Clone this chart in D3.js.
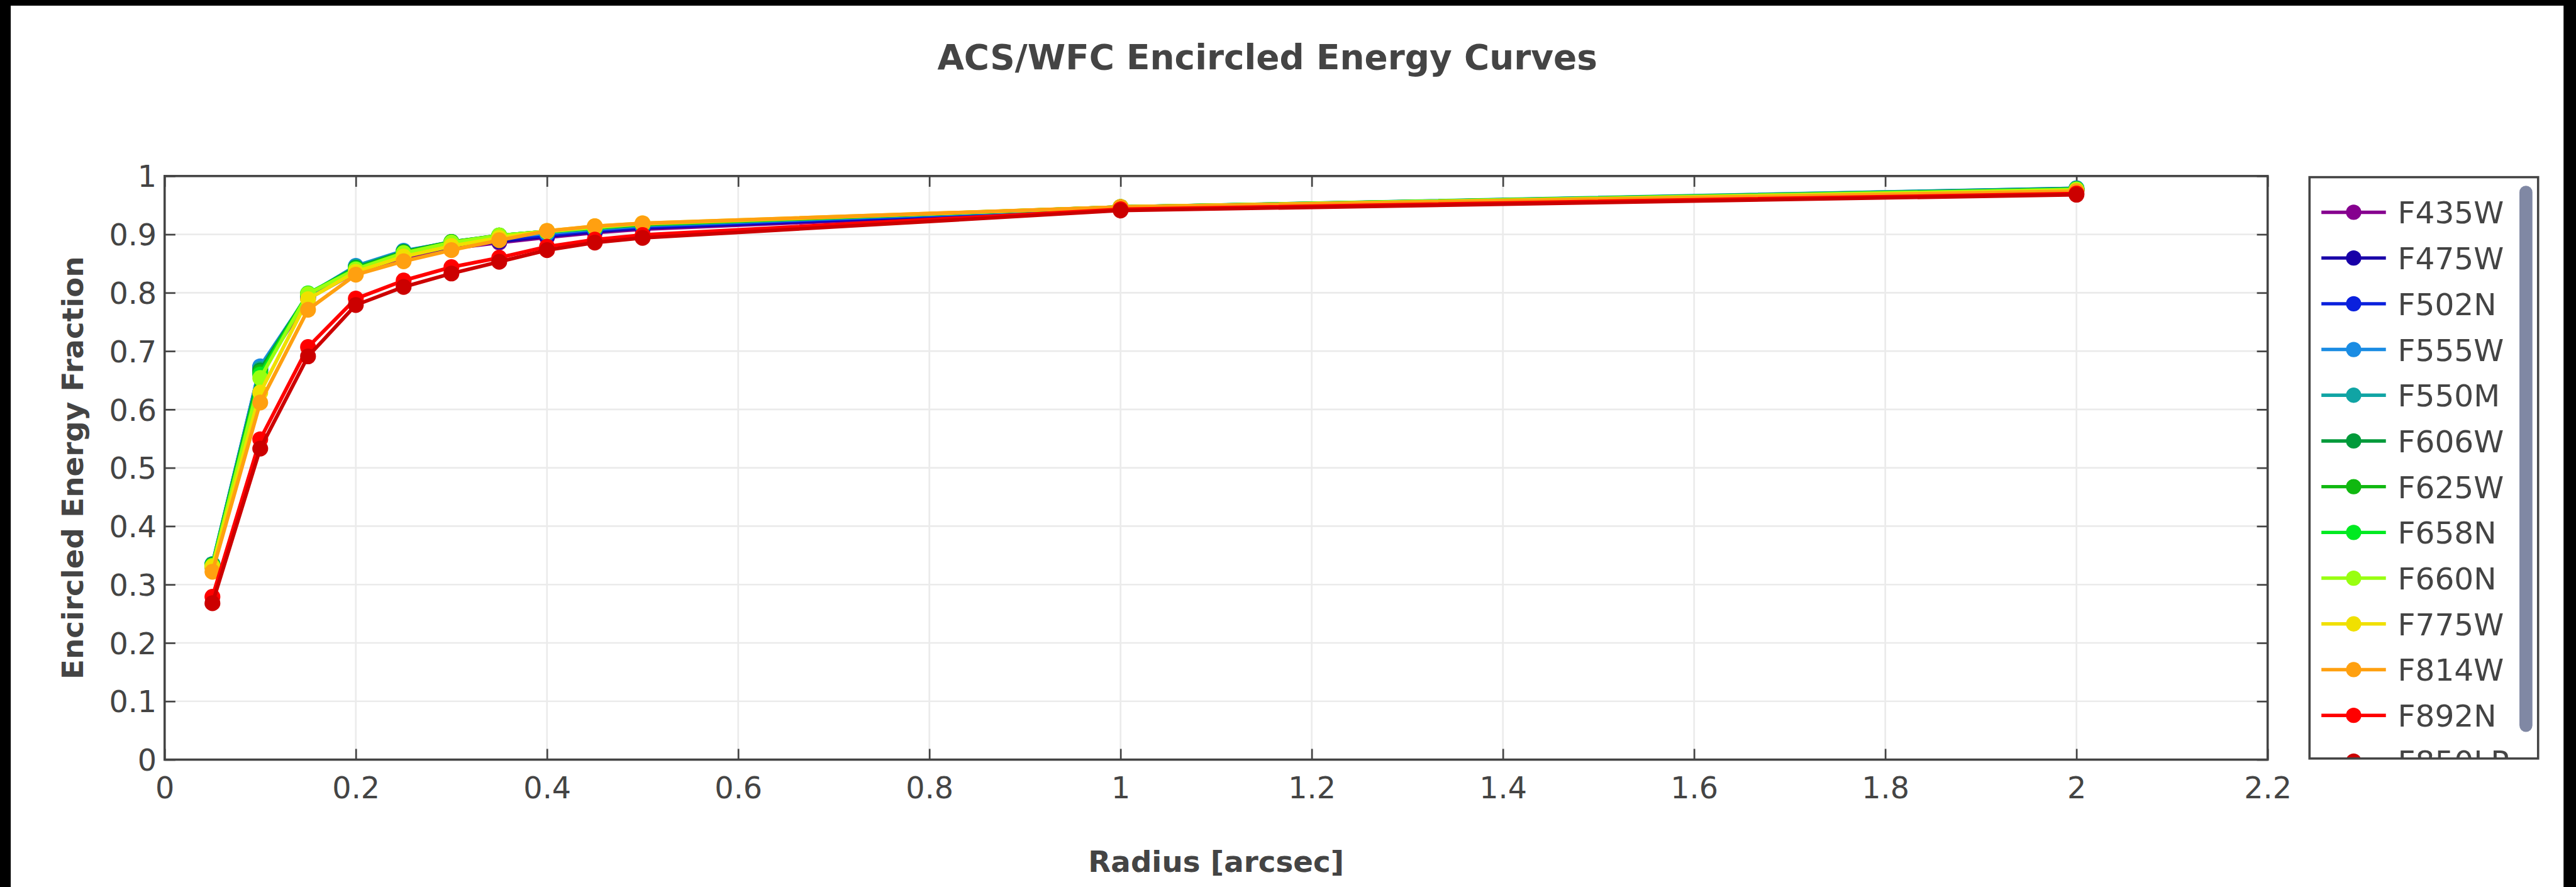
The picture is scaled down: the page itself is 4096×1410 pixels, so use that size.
<!DOCTYPE html>
<html>
<head>
<meta charset="utf-8">
<script src="https://cdn.jsdelivr.net/npm/d3@7"></script>
<style>
  html, body { margin: 0; padding: 0; background: #000; overflow: hidden; }
  svg { display: block; }
  text { font-family: "DejaVu Sans", Verdana, sans-serif; fill: #444; }
</style>
</head>
<body>
<svg id="chart"></svg>
<script>
// ---------------- data ----------------
const radii = [0.05, 0.10, 0.15, 0.20, 0.25, 0.30, 0.35, 0.40, 0.45, 0.50, 1.00, 2.00];

const filters = ["F435W", "F475W", "F502N", "F555W", "F550M", "F606W", "F625W",
                 "F658N", "F660N", "F775W", "F814W", "F892N", "F850LP"];

const colors = ["#86008f", "#1800a8", "#0a20dd", "#1a8ce3", "#10a4a4", "#009a3a", "#10b810",
                "#00ea20", "#99ff10", "#f0e000", "#ffa010", "#ff0000", "#cc0000"];

const eeF435W  = [0.330, 0.662, 0.790, 0.835, 0.860, 0.876, 0.886, 0.895, 0.903, 0.909, 0.943, 0.975];
const eeF475W  = [0.333, 0.668, 0.793, 0.838, 0.863, 0.879, 0.888, 0.897, 0.905, 0.911, 0.944, 0.976];
const eeF502N  = [0.334, 0.673, 0.795, 0.843, 0.868, 0.882, 0.891, 0.899, 0.907, 0.913, 0.945, 0.977];
const eeF555W  = [0.335, 0.674, 0.796, 0.846, 0.872, 0.886, 0.895, 0.902, 0.909, 0.915, 0.946, 0.979];
const eeF550M  = [0.335, 0.670, 0.797, 0.845, 0.871, 0.887, 0.897, 0.904, 0.910, 0.916, 0.947, 0.979];
const eeF606W  = [0.334, 0.667, 0.798, 0.843, 0.870, 0.887, 0.898, 0.905, 0.911, 0.917, 0.947, 0.978];
const eeF625W  = [0.333, 0.664, 0.798, 0.842, 0.869, 0.887, 0.898, 0.905, 0.912, 0.917, 0.947, 0.977];
const eeF658N  = [0.332, 0.660, 0.799, 0.841, 0.868, 0.886, 0.898, 0.905, 0.912, 0.918, 0.947, 0.977];
const eeF660N  = [0.332, 0.654, 0.798, 0.840, 0.868, 0.886, 0.898, 0.905, 0.912, 0.918, 0.947, 0.977];
const eeF775W  = [0.330, 0.629, 0.789, 0.836, 0.862, 0.880, 0.894, 0.906, 0.914, 0.919, 0.947, 0.975];
const eeF814W  = [0.322, 0.612, 0.771, 0.831, 0.854, 0.873, 0.890, 0.906, 0.914, 0.919, 0.947, 0.974];
const eeF892N  = [0.279, 0.549, 0.707, 0.790, 0.821, 0.844, 0.860, 0.879, 0.891, 0.899, 0.943, 0.970];
const eeF850LP = [0.268, 0.533, 0.691, 0.779, 0.810, 0.833, 0.853, 0.873, 0.886, 0.894, 0.941, 0.968];

const xTicks = [0, 0.2, 0.4, 0.6, 0.8, 1.0, 1.2, 1.4, 1.6, 1.8, 2.0, 2.2];
const xTickLabels = ["0", "0.2", "0.4", "0.6", "0.8", "1", "1.2", "1.4", "1.6", "1.8", "2", "2.2"];
const yTicks = [0, 0.1, 0.2, 0.3, 0.4, 0.5, 0.6, 0.7, 0.8, 0.9, 1.0];
const yTickLabels = ["0", "0.1", "0.2", "0.3", "0.4", "0.5", "0.6", "0.7", "0.8", "0.9", "1"];

const titleText = "ACS/WFC Encircled Energy Curves";
const xTitle = "Radius [arcsec]";
const yTitle = "Encircled Energy Fraction";

const seriesValues = [eeF435W, eeF475W, eeF502N, eeF555W, eeF550M, eeF606W, eeF625W,
                      eeF658N, eeF660N, eeF775W, eeF814W, eeF892N, eeF850LP];
const series = filters.map((f, i) => ({
  name: f, color: colors[i],
  points: radii.map((r, j) => ({ r, v: seriesValues[i][j] }))
}));

// ---------------- layout (reference pixel space, scaled by viewBox) ----------------
const W = 4553, H = 1567;
const plot = { left: 291, right: 4008, top: 311, bottom: 1342 };

const svg = d3.select("#chart")
  .attr("width", 4096).attr("height", 1410)
  .attr("viewBox", `0 0 ${W} ${H}`)
  .attr("preserveAspectRatio", "none");

// black frame + white page
svg.append("rect").attr("x", 0).attr("y", 0).attr("width", W).attr("height", H).attr("fill", "#000");
svg.append("rect").attr("x", 19).attr("y", 10).attr("width", 4531 - 19).attr("height", H - 10).attr("fill", "#fff");

const x = d3.scaleLinear().domain([0, 2.2]).range([plot.left, plot.right]);
const y = d3.scaleLinear().domain([0, 1]).range([plot.bottom, plot.top]);

// grid
const grid = svg.append("g");
grid.selectAll("line.gx").data(xTicks.slice(1, -1)).join("line")
  .attr("x1", d => x(d)).attr("x2", d => x(d))
  .attr("y1", plot.top).attr("y2", plot.bottom)
  .attr("stroke", "#ebebeb").attr("stroke-width", 3);
grid.selectAll("line.gy").data(yTicks.slice(1, -1)).join("line")
  .attr("y1", d => y(d)).attr("y2", d => y(d))
  .attr("x1", plot.left).attr("x2", plot.right)
  .attr("stroke", "#ebebeb").attr("stroke-width", 3);

// axes (ticks inside, mirrored)
const tickLen = 19;
function styleAxis(g) {
  g.select(".domain").remove();
  g.selectAll(".tick line").attr("stroke", "#444").attr("stroke-width", 3);
  g.selectAll(".tick text").attr("fill", "#444").style("font-size", "53px")
    .style("font-family", "'DejaVu Sans', Verdana, sans-serif");
}
const xAxis = svg.append("g").attr("transform", `translate(0,${plot.bottom})`)
  .call(d3.axisBottom(x).tickValues(xTicks).tickFormat((d, i) => xTickLabels[i])
    .tickSizeInner(-tickLen).tickSizeOuter(0).tickPadding(0));
styleAxis(xAxis);
xAxis.selectAll(".tick text").attr("y", 68).attr("dy", 0);

const xAxisTop = svg.append("g").attr("transform", `translate(0,${plot.top})`)
  .call(d3.axisTop(x).tickValues(xTicks).tickFormat("").tickSizeInner(-tickLen).tickSizeOuter(0));
styleAxis(xAxisTop);

const yAxis = svg.append("g").attr("transform", `translate(${plot.left},0)`)
  .call(d3.axisLeft(y).tickValues(yTicks).tickFormat((d, i) => yTickLabels[i])
    .tickSizeInner(-tickLen).tickSizeOuter(0).tickPadding(0));
styleAxis(yAxis);
yAxis.selectAll(".tick text").attr("x", -14).attr("dy", "0.36em");

const yAxisRight = svg.append("g").attr("transform", `translate(${plot.right},0)`)
  .call(d3.axisRight(y).tickValues(yTicks).tickFormat("").tickSizeInner(-tickLen).tickSizeOuter(0));
styleAxis(yAxisRight);

// frame
svg.append("rect")
  .attr("x", plot.left).attr("y", plot.top)
  .attr("width", plot.right - plot.left).attr("height", plot.bottom - plot.top)
  .attr("fill", "none").attr("stroke", "#444").attr("stroke-width", 4);

// series
const line = d3.line().x(d => x(d.r)).y(d => y(d.v));
const sg = svg.append("g");
series.forEach(s => {
  const g = sg.append("g");
  g.append("path").datum(s.points).attr("d", line)
    .attr("fill", "none").attr("stroke", s.color).attr("stroke-width", 6.5)
    .attr("stroke-linejoin", "round");
  g.selectAll("circle").data(s.points).join("circle")
    .attr("cx", d => x(d.r)).attr("cy", d => y(d.v)).attr("r", 14)
    .attr("fill", s.color);
});

// titles
svg.append("text").attr("x", 2240).attr("y", 122).attr("text-anchor", "middle")
  .style("font-size", "61px").style("font-weight", "bold").text(titleText);
svg.append("text").attr("x", (plot.left + plot.right) / 2).attr("y", 1540).attr("text-anchor", "middle")
  .style("font-size", "52px").style("font-weight", "bold").text(xTitle);
svg.append("text")
  .attr("transform", `translate(147,${(plot.top + plot.bottom) / 2}) rotate(-90)`)
  .attr("text-anchor", "middle")
  .style("font-size", "52px").style("font-weight", "bold").text(yTitle);

// legend
const lg = { x: 4082, y: 313, w: 404, h: 1027 };
svg.append("defs").append("clipPath").attr("id", "legclip")
  .append("rect").attr("x", lg.x + 2).attr("y", lg.y + 2).attr("width", lg.w - 4).attr("height", lg.h - 4);
svg.append("rect").attr("x", lg.x).attr("y", lg.y).attr("width", lg.w).attr("height", lg.h)
  .attr("fill", "#fff");
const legItems = svg.append("g").attr("clip-path", "url(#legclip)");
const itemY = d3.scaleLinear().domain([0, 1]).range([375, 375 + 80.8]);
series.forEach((s, i) => {
  const cy = itemY(i);
  const g = legItems.append("g");
  g.append("line").attr("x1", 4103).attr("x2", 4217).attr("y1", cy).attr("y2", cy)
    .attr("stroke", s.color).attr("stroke-width", 6);
  g.append("circle").attr("cx", 4160).attr("cy", cy).attr("r", 13.5).attr("fill", s.color);
  g.append("text").attr("x", 4238).attr("y", cy + 20)
    .style("font-size", "54px").text(s.name);
});
svg.append("rect").attr("x", 4453).attr("y", 328).attr("width", 23).attr("height", 1293 - 328)
  .attr("rx", 11.5).attr("fill", "#8088a4");
svg.append("rect").attr("x", lg.x).attr("y", lg.y).attr("width", lg.w).attr("height", lg.h)
  .attr("fill", "none").attr("stroke", "#444").attr("stroke-width", 4);
</script>
</body>
</html>
